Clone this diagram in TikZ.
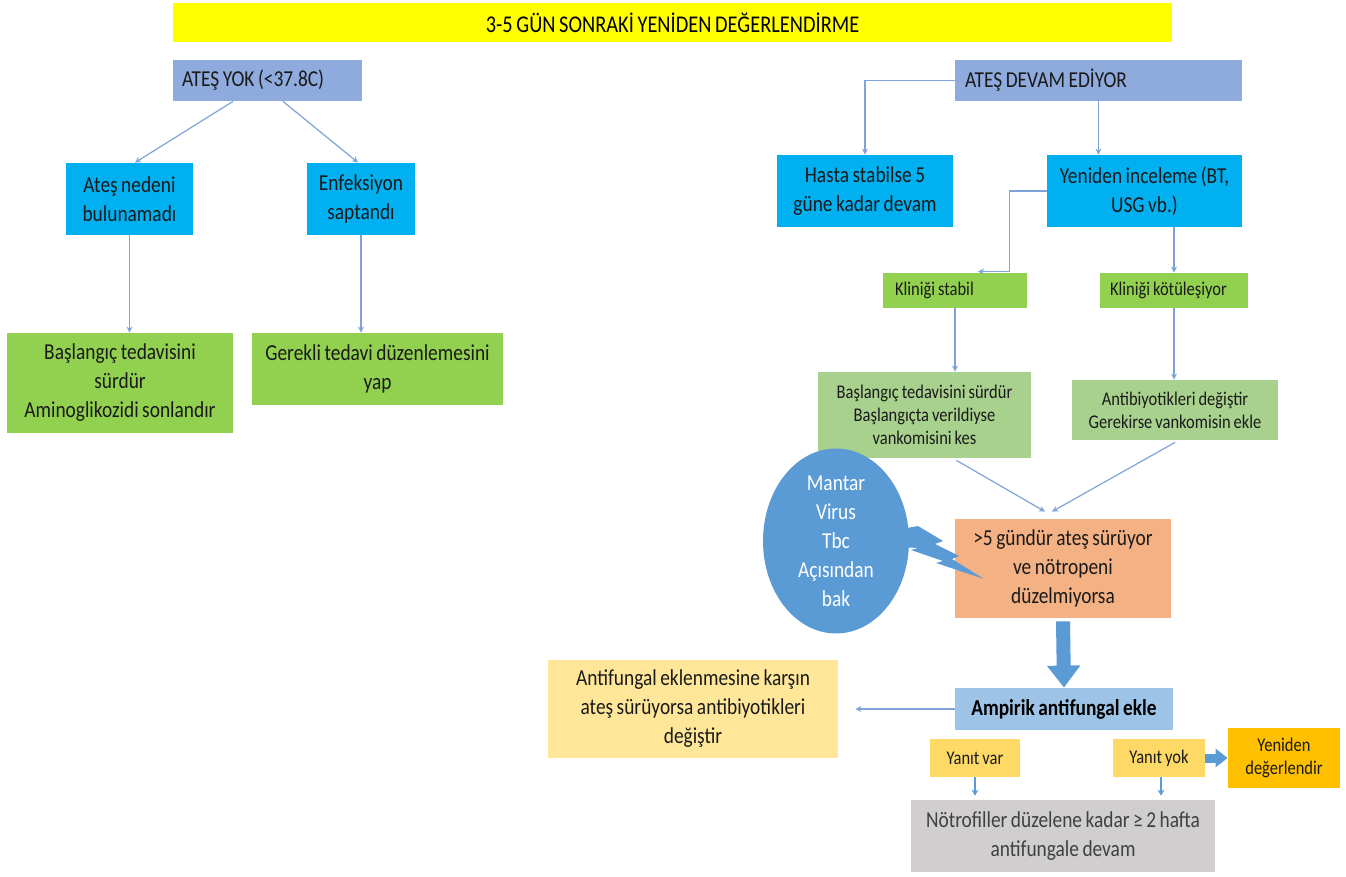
\documentclass[tikz,border=0pt]{standalone}
\usepackage{fontspec}
\setmainfont{Carlito}[FakeStretch=0.85,WordSpace=0.8]
\usetikzlibrary{arrows.meta,shapes.geometric}
\definecolor{ttl}{HTML}{FFFF00}
\definecolor{lav}{HTML}{8FAADC}
\definecolor{cyn}{HTML}{00B0F0}
\definecolor{grn}{HTML}{92D050}
\definecolor{lgr}{HTML}{A9D18E}
\definecolor{org}{HTML}{F4B183}
\definecolor{blu}{HTML}{5B9BD5}
\definecolor{amb}{HTML}{9DC3E6}
\definecolor{pyl}{HTML}{FFE699}
\definecolor{yan}{HTML}{FFD966}
\definecolor{gld}{HTML}{FFC000}
\definecolor{gry}{HTML}{D0CECE}
\definecolor{txt}{HTML}{1A1A1A}
\definecolor{gtx}{HTML}{404040}
\definecolor{lnc}{HTML}{7FA3D8}
\tikzset{
  bx/.style={inner sep=0pt, align=center, text=txt},
  big/.style={font=\fontsize{11.4}{14.5}\selectfont},
  mid/.style={font=\fontsize{9.7}{11.5}\selectfont},
  conn/.style={draw=lnc, line width=0.6pt, -{Stealth[length=3pt,width=3pt]}},
  vconn/.style={draw=blu, line width=0.9pt, -{Stealth[length=3pt,width=3.5pt]}},
  blockarrow/.style={draw=blu, line width=7pt, -{Triangle[length=11pt,width=16pt]}},
  smallblock/.style={draw=blu, line width=4.5pt, -{Triangle[length=6pt,width=9pt]}}
}
\begin{document}
\begin{tikzpicture}[x=0.5pt,y=-0.5pt]
\fill[white] (0,0) rectangle (1346,877);
\useasboundingbox (0,0) rectangle (1346,877);

% title
\node[bx, fill=ttl, minimum width=499.5pt, minimum height=19.5pt, font=\fontsize{12}{14}\selectfont, text=black] (title) at (672.5,22.5) {3-5 GÜN SONRAKİ YENİDEN DEĞERLENDİRME};

% left branch
\node[bx, big, fill=lav, inner xsep=4.5pt, text width=85.5pt, align=flush left, minimum height=20.5pt] (ayok) at (267.5,80.5) {ATEŞ YOK (<37.8C)};
\node[bx, big, fill=cyn, minimum width=63.5pt, minimum height=36pt] (neden) at (129.5,199) {Ateş nedeni\\bulunamadı};
\node[bx, big, fill=cyn, minimum width=54pt, minimum height=36pt] (enf) at (361,199) {Enfeksiyon\\saptandı};
\node[bx, big, fill=grn, minimum width=113pt, minimum height=50pt] (bas) at (120,383) {Başlangıç tedavisini\\sürdür\\Aminoglikozidi sonlandır};
\node[bx, big, fill=grn, minimum width=125.5pt, minimum height=36pt] (gerekli) at (377.5,369) {Gerekli tedavi düzenlemesini\\yap};

\draw[conn] ([xshift=-17.25pt]ayok.south) -- ([xshift=2.75pt]neden.north);
\draw[conn] ([xshift=7.75pt]ayok.south) -- ([xshift=-1.5pt]enf.north);
\draw[conn] (neden.south) -- (neden.south |- bas.north);
\draw[conn] (enf.south) -- (enf.south |- gerekli.north);

% right branch
\node[bx, big, fill=lav, inner xsep=5pt, text width=133.5pt, align=flush left, minimum height=20.5pt] (adevam) at (1098.5,80.5) {ATEŞ DEVAM EDİYOR};
\node[bx, big, fill=cyn, minimum width=88pt, minimum height=36pt] (hasta) at (865,191) {Hasta stabilse 5\\güne kadar devam};
\node[bx, big, fill=cyn, minimum width=97.5pt, minimum height=36pt] (yen) at (1144.5,191) {Yeniden inceleme (BT,\\USG vb.)};
\node[bx, mid, fill=grn, inner xsep=6pt, text width=60pt, align=flush left, minimum height=17.5pt] (kstabil) at (955,290.5) {Kliniği stabil};
\node[bx, mid, fill=grn, inner xsep=5pt, text width=64pt, align=flush left, minimum height=17.5pt] (kkot) at (1174,290.5) {Kliniği kötüleşiyor};
\node[bx, mid, fill=lgr, minimum width=106.5pt, minimum height=43pt] (bas2) at (924.5,415) {Başlangıç tedavisini sürdür\\Başlangıçta verildiyse\\vankomisini kes};
\node[bx, mid, fill=lgr, minimum width=103pt, minimum height=30pt] (anti) at (1175,410) {Antibiyotikleri değiştir\\Gerekirse vankomisin ekle};
\node[bx, big, fill=org, minimum width=108pt, minimum height=49.5pt] (orange) at (1063,568.5) {>5 gündür ateş sürüyor\\ve nötropeni\\düzelmiyorsa};

\draw[conn] (adevam.west) -| (hasta.north);
\draw[conn] (adevam.south) -- (adevam.south |- yen.north);
\draw[conn] (yen.west) -- ++(-37,0) |- ([xshift=11.5pt,yshift=0.5pt]kstabil.north);
\draw[conn] (kkot.north |- yen.south) -- (kkot.north);
\draw[conn] (kstabil.south) -- (kstabil.south |- bas2.north);
\draw[conn] (kkot.south) -- (kkot.south |- anti.north);
\draw[conn] ([xshift=16pt,yshift=-1pt]bas2.south) -- ([xshift=-9pt,yshift=3.5pt]orange.north);
\draw[conn] ([yshift=-1pt]anti.south) -- ([xshift=-5.5pt,yshift=3.5pt]orange.north);

% lightning bolt
\fill[blu] (880,533) -- (918,526) -- (943,541) -- (935,544) -- (959,556) -- (952,559) -- (984,579) -- (936,563) -- (943,561) -- (911,550) -- (918,548) -- (880,546) -- cycle;
\node[ellipse, fill=blu, inner sep=0pt, minimum width=73pt, minimum height=81pt, align=center, text=white, font=\fontsize{11.4}{14.5}\selectfont] (circ) at (836,541) {Mantar\\Virus\\Tbc\\Açısından\\bak};

% antifungal part
\node[bx, big, fill=amb, minimum width=109pt, minimum height=21pt, font=\fontsize{11.4}{14.5}\selectfont\bfseries, text=black] (amp) at (1064,709) {Ampirik antifungal ekle};
\node[bx, big, fill=pyl, minimum width=145pt, minimum height=49pt] (afbox) at (693,709) {Antifungal eklenmesine karşın\\ateş sürüyorsa antibiyotikleri\\değiştir};
\node[bx, mid, fill=yan, minimum width=45pt, minimum height=19pt] (yvar) at (975,758) {Yanıt var};
\node[bx, mid, fill=yan, minimum width=46pt, minimum height=19pt] (yyok) at (1159,758) {Yanıt yok};
\node[bx, mid, fill=gld, minimum width=56pt, minimum height=30pt] (yend) at (1284,758) {Yeniden\\değerlendir};
\node[bx, big, fill=gry, text=gtx, minimum width=152pt, minimum height=36pt] (gray) at (1063,836) {Nötrofiller düzelene kadar ≥ 2 hafta\\antifungale devam};

\draw[blockarrow] ([yshift=-1.5pt]orange.south) -- (amp.north);
\draw[conn] (amp.west) -- ([xshift=8.5pt]afbox.east);
\draw[vconn] (yvar.south) -- ([yshift=2pt]yvar.south |- gray.north);
\draw[vconn] ([xshift=1pt]yyok.south) -- ([xshift=1pt,yshift=2pt]yyok.south |- gray.north);
\draw[smallblock] (yyok.east) -- (yend.west);
\end{tikzpicture}
\end{document}
